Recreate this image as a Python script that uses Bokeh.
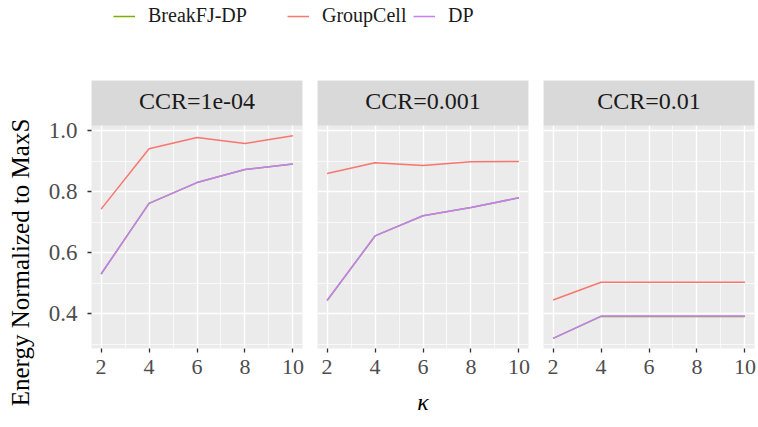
import math
from bokeh.plotting import figure
from bokeh.models import (Range1d, FixedTicker, PrintfTickFormatter, Label,
                          Legend, LegendItem, ColumnDataSource)
from bokeh.layouts import column, row
from bokeh.embed import file_html
from bokeh.resources import INLINE

# ---------------- data ----------------
kappa = [2, 4, 6, 8, 10]
panel_titles = ["CCR=1e-04", "CCR=0.001", "CCR=0.01"]
series_names = ["BreakFJ-DP", "GroupCell", "DP"]
series_colors = ["#7CAE00", "#F8766D", "#C77CFF"]

groupcell_1e4 = [0.743, 0.941, 0.978, 0.958, 0.984]
groupcell_1e3 = [0.860, 0.895, 0.886, 0.898, 0.899]
groupcell_1e2 = [0.445, 0.503, 0.503, 0.503, 0.503]

dp_1e4 = [0.530, 0.762, 0.830, 0.873, 0.891]
dp_1e3 = [0.443, 0.655, 0.721, 0.748, 0.780]
dp_1e2 = [0.319, 0.392, 0.392, 0.392, 0.392]

breakfj_1e4 = [0.530, 0.762, 0.830, 0.873, 0.891]
breakfj_1e3 = [0.443, 0.655, 0.721, 0.748, 0.780]
breakfj_1e2 = [0.319, 0.391, 0.391, 0.391, 0.391]

x_ticks = [2, 4, 6, 8, 10]
x_minor = [3, 5, 7, 9]
y_ticks = [0.4, 0.6, 0.8, 1.0]
y_minor = [0.3, 0.5, 0.7, 0.9]

y_title = "Energy Normalized to MaxS"
x_title = "\u03ba"

panels = [
    (breakfj_1e4, groupcell_1e4, dp_1e4),
    (breakfj_1e3, groupcell_1e3, dp_1e3),
    (breakfj_1e2, groupcell_1e2, dp_1e2),
]

FONT = "Liberation Serif"

# ggplot-like 5% expansion
all_y = [v for pan in panels for s in pan for v in s]
ylo, yhi = min(all_y), max(all_y)
yspan = yhi - ylo
y0 = ylo - 0.05 * yspan
y1 = yhi + 0.05 * yspan
xlo, xhi = min(kappa), max(kappa)
xspan = xhi - xlo
x0 = xlo - 0.05 * xspan
x1 = xhi + 0.05 * xspan

FRAME_W = 211
PANEL_H = 223
STRIP_H = 45
BOTTOM = 77
LEGEND_H = 80
TITLE_W = 36
FIG_H = STRIP_H + PANEL_H + BOTTOM

# strip sits on top of the data area inside the same frame
ystrip_top = y1 + (y1 - y0) * STRIP_H / PANEL_H

borders = [(55, 7), (8, 7), (8, 2)]


def make_panel(i):
    left, right = borders[i]
    xr = Range1d(x0, x1)
    yr = Range1d(y0, ystrip_top)
    p = figure(width=left + FRAME_W + right, height=FIG_H,
               x_range=xr, y_range=yr, output_backend="svg",
               toolbar_location=None,
               y_axis_location="left" if i == 0 else None,
               min_border_left=left, min_border_right=right,
               min_border_top=0, min_border_bottom=BOTTOM)
    p.background_fill_color = "#EBEBEB"
    p.border_fill_color = "white"
    p.outline_line_color = None

    xt = FixedTicker(ticks=x_ticks, minor_ticks=x_minor)
    yt = FixedTicker(ticks=y_ticks, minor_ticks=y_minor)

    ax = p.xaxis[0]
    ax.ticker = xt
    ax.axis_line_color = None
    ax.major_tick_in = 0
    ax.major_tick_out = 4
    ax.major_tick_line_color = "#333333"
    ax.major_tick_line_width = 1.3
    ax.minor_tick_line_color = None
    ax.major_label_text_font = FONT
    ax.major_label_text_font_size = "22px"
    ax.major_label_text_color = "#4D4D4D"
    ax.major_label_standoff = 7
    if i == 1:
        ax.axis_label = x_title
        ax.axis_label_text_font = FONT
        ax.axis_label_text_font_style = "italic"
        ax.axis_label_text_font_size = "24px"
        ax.axis_label_text_color = "black"
        ax.axis_label_standoff = 12

    if i == 0:
        ay = p.yaxis[0]
        ay.ticker = yt
        ay.formatter = PrintfTickFormatter(format="%.1f")
        ay.axis_line_color = None
        ay.major_tick_in = 0
        ay.major_tick_out = 4
        ay.major_tick_line_color = "#333333"
        ay.major_tick_line_width = 1.3
        ay.minor_tick_line_color = None
        ay.major_label_text_font = FONT
        ay.major_label_text_font_size = "23px"
        ay.major_label_text_color = "#4D4D4D"
        ay.major_label_standoff = 10

    for g in p.xgrid:
        g.ticker = xt
    for g in p.ygrid:
        g.ticker = yt
    for g in list(p.xgrid) + list(p.ygrid):
        g.grid_line_color = "white"
        g.grid_line_width = 1.4
        g.minor_grid_line_color = "white"
        g.minor_grid_line_width = 0.7

    for vals, color in zip(panels[i], series_colors):
        src = ColumnDataSource(data=dict(x=kappa, y=vals))
        p.line("x", "y", source=src, color=color, line_width=1.5)

    # facet strip
    p.quad(left=[x0], right=[x1], bottom=[y1], top=[ystrip_top],
           fill_color="#D9D9D9", line_color=None)
    p.add_layout(Label(x=(x0 + x1) / 2, y=(y1 + ystrip_top) / 2, y_offset=2,
                       text=panel_titles[i], text_align="center",
                       text_baseline="middle", text_font=FONT,
                       text_font_size="24px", text_color="#1A1A1A"))
    return p


panel_figs = [make_panel(i) for i in range(3)]

# y-axis title column (pixel-valued ranges, own frame = whole canvas)
tf = figure(width=TITLE_W, height=FIG_H,
            x_range=Range1d(0, TITLE_W), y_range=Range1d(0, FIG_H),
            output_backend="svg", toolbar_location=None,
            x_axis_location=None, y_axis_location=None,
            min_border_left=0, min_border_right=0, min_border_top=0,
            min_border_bottom=0)
tf.frame_align = False
tf.outline_line_color = None
tf.grid.visible = False
tf.add_layout(Label(x=20, y=FIG_H - 182, angle=math.pi / 2,
                    text=y_title, text_align="center", text_baseline="middle",
                    text_font=FONT, text_font_size="25px", text_color="black"))

total_w = TITLE_W + sum(l + FRAME_W + r for l, r in borders)

# legend strip
lf = figure(width=total_w, height=LEGEND_H, x_range=Range1d(0, 1),
            y_range=Range1d(0, 1), output_backend="svg", toolbar_location=None,
            x_axis_location=None, y_axis_location=None,
            min_border_left=0, min_border_right=0, min_border_top=0,
            min_border_bottom=0)
lf.frame_align = False
lf.outline_line_color = None
lf.grid.visible = False
legend_x = [113, 287, 413]
for name, color, vals, lx in zip(series_names, series_colors, panels[0], legend_x):
    src = ColumnDataSource(data=dict(x=kappa, y=vals))
    r = lf.line("x", "y", source=src, color=color, line_width=1.5)
    r.visible = False
    leg = Legend(items=[LegendItem(label=name, renderers=[r])],
                 location=(lx, 53), orientation="horizontal",
                 glyph_width=22, glyph_height=20, label_standoff=13,
                 padding=0, margin=0, spacing=0,
                 border_line_color=None, background_fill_alpha=0,
                 inactive_fill_alpha=0,
                 label_text_font=FONT, label_text_font_size="20px",
                 label_text_color="#1A1A1A")
    lf.add_layout(leg)

layout = column(lf, row(tf, *panel_figs))

open("out.html", "w").write(file_html(layout, INLINE))
